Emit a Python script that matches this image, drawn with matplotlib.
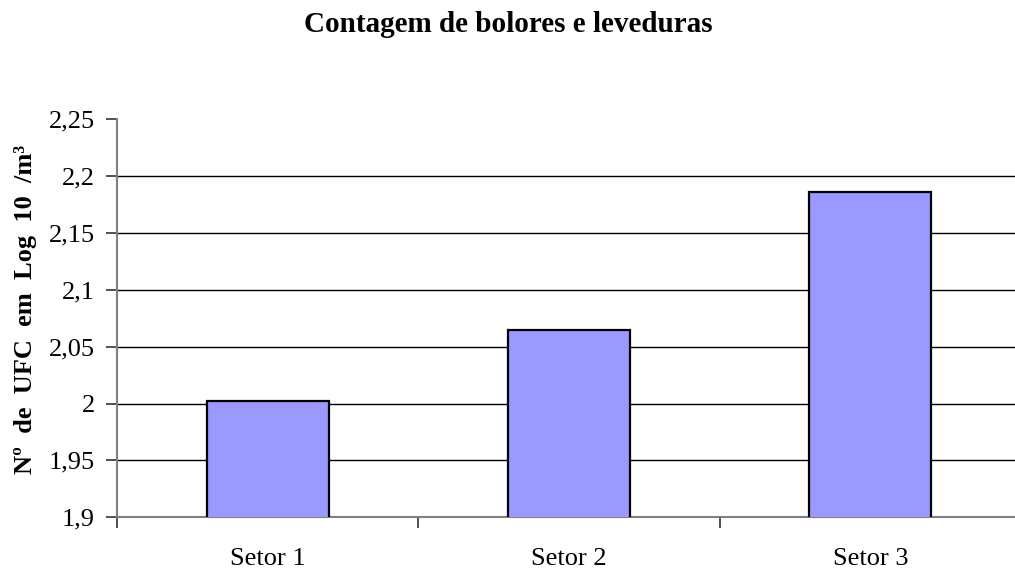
import matplotlib
matplotlib.use("Agg")
import matplotlib.pyplot as plt

categories = ["Setor 1", "Setor 2", "Setor 3"]
values = [2.002, 2.065, 2.186]
yticks = [1.9, 1.95, 2.0, 2.05, 2.1, 2.15, 2.2, 2.25]
ytick_labels = ["1,9", "1,95", "2", "2,05", "2,1", "2,15", "2,2", "2,25"]

plt.rcParams["font.family"] = ["Liberation Serif", "DejaVu Serif"]

fig = plt.figure(figsize=(10.15, 5.77), dpi=100)
W, H = 1015, 577
left, right, top, bottom = 117, 1021, 119, 517.3
ax = fig.add_axes([left / W, 1 - bottom / H, (right - left) / W, (bottom - top) / H])

x = range(len(categories))
ax.bar(x, values, width=0.405, color="#9999FF", edgecolor="black", linewidth=1.6, zorder=3)

ax.set_ylim(1.9, 2.25)
ax.set_xlim(-0.5, 2.5)
ax.set_yticks(yticks)
ax.set_yticklabels(ytick_labels, fontsize=19)
for y in yticks[1:-1]:
    ax.axhline(y, color="black", linewidth=1.0, zorder=1)

ax.set_xticks([0, 1, 2])
ax.set_xticklabels(categories, fontsize=19)
ax.set_xticks([-0.5, 0.5, 1.5, 2.5], minor=True)
ax.tick_params(axis="x", which="major", length=0, pad=22)
ax.tick_params(axis="x", which="minor", length=8, width=1.2, color="#333333", direction="out")
ax.tick_params(axis="y", length=8, width=1.2, color="#333333", direction="out", pad=8)

for s in ["top", "right"]:
    ax.spines[s].set_visible(False)
for s in ["left", "bottom"]:
    ax.spines[s].set_color("#808080")
    ax.spines[s].set_linewidth(1.5)

fig.text(508 / W, 1 - 25 / H, "Contagem de bolores e leveduras", ha="center", va="center",
         fontsize=21, fontweight="bold")
fig.text(26 / W, 1 - 309 / H, "Nº  de  UFC  em  Log  10  /m³", ha="center", va="center",
         rotation=90, fontsize=19, fontweight="bold")

fig.savefig("out.png", dpi=100)
